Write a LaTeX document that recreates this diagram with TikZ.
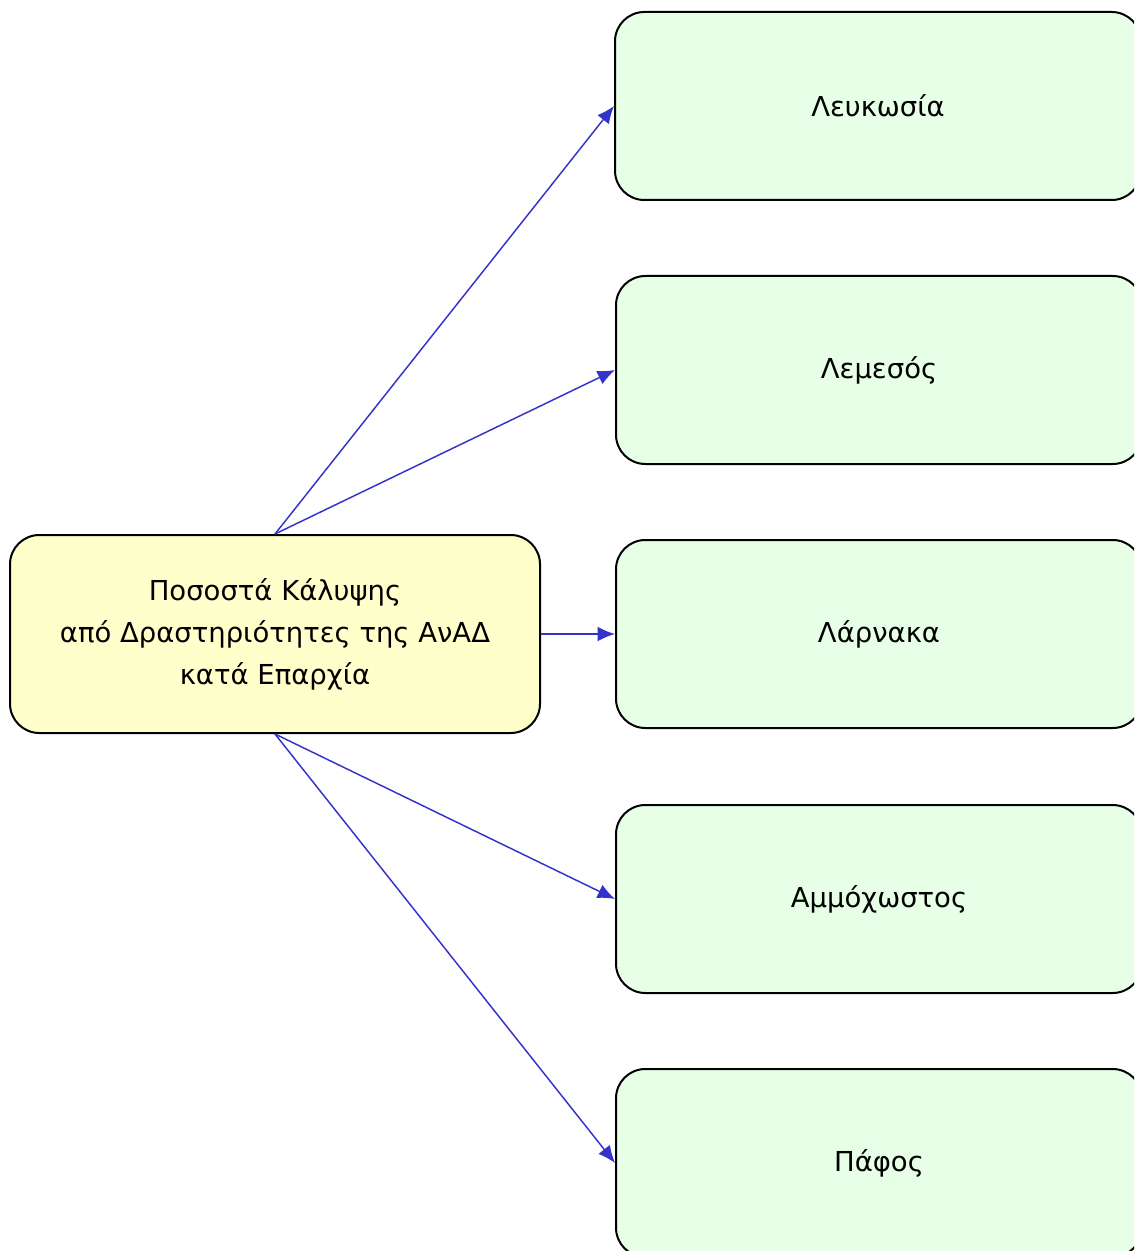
\documentclass[tikz,border=0pt]{standalone}
\usepackage{fontspec}
\setmainfont{DejaVu Sans}
\usetikzlibrary{arrows.meta}
\definecolor{AnadYellow}{RGB}{255, 255, 204}
\definecolor{AnadGreen}{RGB}{230, 255, 230}
\definecolor{AnadBlue}{RGB}{51, 51, 204}

\begin{document}
\begin{tikzpicture}[x=0.75pt, y=-0.75pt,
    main/.style={draw=black, line width=1.5pt, fill=AnadYellow, rounded corners=22pt, minimum width=397.5pt, minimum height=148.5pt, align=center, font=\fontsize{20.6}{31.5}\selectfont},
    box/.style={draw=black, line width=1.5pt, fill=AnadGreen, rounded corners=22pt, minimum width=394.5pt, minimum height=141pt, align=center, font=\fontsize{20.6}{24}\selectfont},
    arr/.style={-{Latex[length=13pt, width=11pt]}, line width=1.1pt, AnadBlue}
]
    \useasboundingbox (0,0) rectangle (1134,1251);
    \clip (0,0) rectangle (1134,1251);

    \node[main] (cover) at (275,634) {Ποσοστά Κάλυψης\\από Δραστηριότητες της ΑνΑΔ\\κατά Επαρχία};
    \node[box] (lefkosia) at (878,106) {Λευκωσία};
    \node[box] (lemesos) at (879,370) {Λεμεσός};
    \node[box] (larnaka) at (879,634) {Λάρνακα};
    \node[box] (ammoch) at (879,899) {Αμμόχωστος};
    \node[box] (pafos) at (879,1163) {Πάφος};

    \draw[arr] (cover.north) -- (lefkosia.west);
    \draw[arr] (cover.north) -- (lemesos.west);
    \draw[arr] (cover.east) -- (larnaka.west);
    \draw[arr] (cover.south) -- (ammoch.west);
    \draw[arr] (cover.south) -- (pafos.west);
\end{tikzpicture}
\end{document}
